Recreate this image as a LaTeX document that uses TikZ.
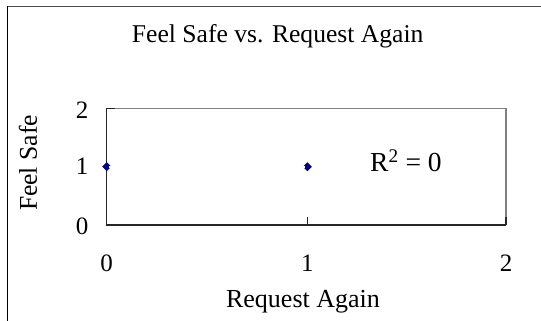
\documentclass[tikz,border=0pt]{standalone}
\usepackage{fontspec}
\setmainfont{Liberation Serif}
\begin{document}
\begin{tikzpicture}[x=1pt,y=-1pt]
% Set the chart dimensions
\def\plotleft{106.7}
\def\plotright{506}
\def\plottop{108.3}
\def\plotbottom{225}
\definecolor{navy}{RGB}{0,0,128}
\definecolor{framegray}{RGB}{128,128,128}
\useasboundingbox (0,0) rectangle (541,321);
\fill[white] (0,0) rectangle (541,321);

% Outer chart frame (cut at right and bottom)
\draw[line width=1.4pt, black!70] (7.3,6.5) -- (541,6.5);
\draw[line width=1.4pt] (7.3,6.5) -- (7.3,321);

% Plot area and axes
\draw[line width=1.3pt, framegray] (\plotleft,\plottop) -- (\plotright,\plottop) -- (\plotright,\plotbottom);
\draw[line width=1.3pt, black!85] (\plotleft,\plottop) -- (\plotleft,\plotbottom) -- (\plotright,\plotbottom);
\draw[line width=1.3pt, black!85] (307.3,\plotbottom) -- (307.3,217);
\draw[line width=1.3pt, black!85] (\plotright,\plotbottom) -- (\plotright,217);
\draw[line width=1.3pt, black!85] (\plotleft,\plottop) -- (115,\plottop);

% Tick labels
\node[font=\fontsize{25}{25}\selectfont, inner sep=0pt] (y2) at (82,110) {2};
\node[font=\fontsize{25}{25}\selectfont, inner sep=0pt] (y1) at (82,166.7) {1};
\node[font=\fontsize{25}{25}\selectfont, inner sep=0pt] (y0) at (82,226.7) {0};
\node[font=\fontsize{25}{25}\selectfont, inner sep=0pt] (x0) at (106.7,263) {0};
\node[font=\fontsize{25}{25}\selectfont, inner sep=0pt] (x1) at (307.3,263) {1};
\node[font=\fontsize{25}{25}\selectfont, inner sep=0pt] (x2) at (506,263) {2};

% Data points
\fill[navy] (106.7,162.2) -- (111.2,166.7) -- (106.7,171.2) -- (102.2,166.7) -- cycle;
\fill[white] (108.6,165.8) rectangle (111.8,167.6);
\fill[navy] (307.3,162.2) -- (311.8,166.7) -- (307.3,171.2) -- (302.8,166.7) -- cycle;
\fill[white] (302.2,165.8) rectangle (305.4,167.6);

% Titles
\node[anchor=base, font=\fontsize{25.6}{26}\selectfont, inner sep=0pt] (title) at (277.7,43) {Feel Safe vs. Request Again};
\node[anchor=base, font=\fontsize{26}{26}\selectfont, inner sep=0pt] (xtitle) at (303,307) {Request Again};
\node[rotate=90, font=\fontsize{25.6}{26}\selectfont, inner sep=0pt] (ytitle) at (28,163) {Feel Safe};
\node[anchor=base west, font=\fontsize{27.5}{28}\selectfont, inner sep=0pt] (rsq) at (370,171.7) {R\textsuperscript{2} = 0};
\end{tikzpicture}
\end{document}
